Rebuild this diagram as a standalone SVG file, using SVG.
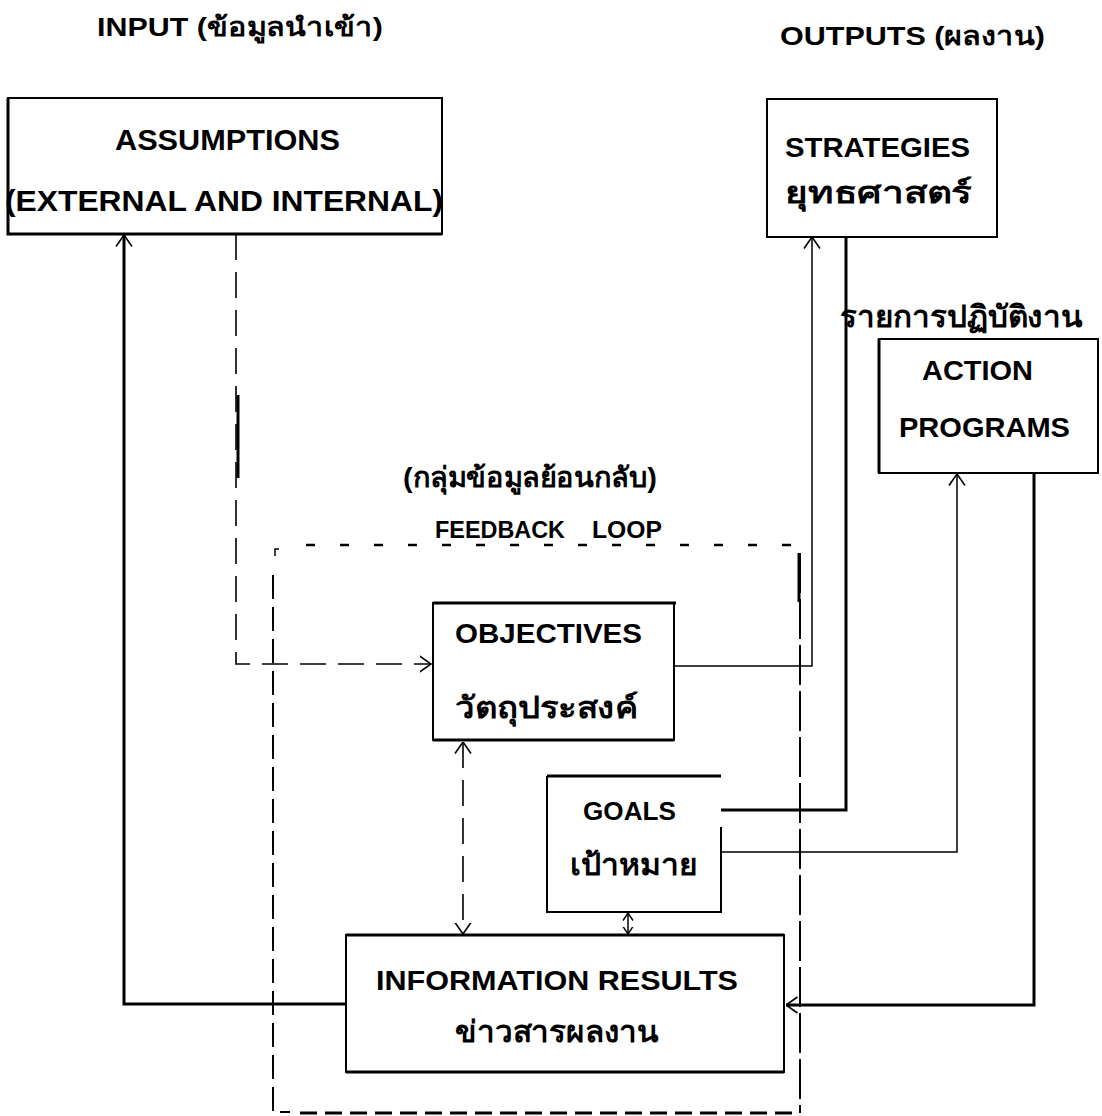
<svg xmlns="http://www.w3.org/2000/svg" width="1102" height="1116" viewBox="0 0 1102 1116">
<defs>
<style>
.t{font-family:"Liberation Sans","Noto Sans","DejaVu Sans",sans-serif;font-weight:bold;fill:#000}
.box{fill:#fff;stroke:#000;stroke-width:2}
.thk{fill:none;stroke:#000;stroke-width:3}
.thin{fill:none;stroke:#000;stroke-width:1.5}
.dash{fill:none;stroke:#000;stroke-width:1.6;stroke-dasharray:26 12}
</style>
<marker id="arr" viewBox="0 0 12 18" refX="11.5" refY="9" markerWidth="12" markerHeight="18" markerUnits="userSpaceOnUse" orient="auto-start-reverse">
<path d="M0,1 L11.5,9 L0,17" fill="none" stroke="#000" stroke-width="1.6"/>
</marker>
<marker id="arrs" viewBox="0 0 8 12" refX="7.5" refY="6" markerWidth="8" markerHeight="12" markerUnits="userSpaceOnUse" orient="auto-start-reverse">
<path d="M0,1 L7.5,6 L0,11" fill="none" stroke="#000" stroke-width="1.4"/>
</marker>
</defs>
<rect width="1102" height="1116" fill="#fff"/>

<g id="headers">
<text class="t" x="97" y="36" font-size="26" textLength="286" lengthAdjust="spacingAndGlyphs">INPUT (ข้อมูลนำเข้า)</text>
<text class="t" x="780" y="45" font-size="26" textLength="265" lengthAdjust="spacingAndGlyphs">OUTPUTS (ผลงาน)</text>
</g>

<g id="feedback-loop">
<path d="M306,545 H795" fill="none" stroke="#000" stroke-width="2.5" stroke-dasharray="9 25"/>
<path d="M275,556 V549 H279" fill="none" stroke="#000" stroke-width="1.5"/>
<path d="M273,575 V1112 H290" fill="none" stroke="#000" stroke-width="2" stroke-dasharray="24 8"/>
<path d="M300,1113 H800" fill="none" stroke="#000" stroke-width="3" stroke-dasharray="17 8"/>
<path d="M800,553 V1113" fill="none" stroke="#000" stroke-width="2" stroke-dasharray="40 6"/>
<path d="M799,553 V602" fill="none" stroke="#000" stroke-width="3"/>
<text class="t" x="403" y="487" font-size="28" textLength="254" lengthAdjust="spacingAndGlyphs">(กลุ่มข้อมูลย้อนกลับ)</text>
<text class="t" font-size="23" y="538"><tspan x="435" textLength="130" lengthAdjust="spacingAndGlyphs">FEEDBACK</tspan><tspan x="592" textLength="70" lengthAdjust="spacingAndGlyphs">LOOP</tspan></text>
</g>

<g id="connectors">
<path class="dash" d="M236,234 V664 H431" marker-end="url(#arr)"/>
<path d="M238,395 V478" fill="none" stroke="#000" stroke-width="3"/>
<path class="thin" d="M674,666 H812 V237" stroke-width="2" marker-end="url(#arr)"/>
<path class="thk" d="M721,810 H846 V237"/>
<path class="thin" d="M721,852 H957 V474" marker-end="url(#arr)"/>
<path class="thk" d="M1034,473 V1005 H786" marker-end="url(#arr)"/>
<path class="thk" d="M346,1004 H124 V235" marker-end="url(#arr)"/>
<path class="dash" d="M463,742 V934" stroke-dasharray="30 9" marker-start="url(#arr)" marker-end="url(#arr)"/>
<path class="thin" d="M628,913 V934" marker-start="url(#arrs)" marker-end="url(#arrs)"/>
</g>

<g id="assumptions">
<rect class="box" x="8" y="98" width="434" height="136"/>
<path class="thk" d="M8,98 V234 H442"/>
<text class="t" x="115" y="150" font-size="30" textLength="225" lengthAdjust="spacingAndGlyphs">ASSUMPTIONS</text>
<text class="t" x="5" y="211" font-size="30" textLength="438" lengthAdjust="spacingAndGlyphs">(EXTERNAL AND INTERNAL)</text>
</g>

<g id="strategies">
<rect class="box" x="767" y="99" width="230" height="138"/>
<text class="t" x="785" y="157" font-size="28" textLength="185" lengthAdjust="spacingAndGlyphs">STRATEGIES</text>
<text class="t" x="785" y="203" font-size="30" textLength="187" lengthAdjust="spacingAndGlyphs">ยุทธศาสตร์</text>
</g>

<g id="action-programs">
<text class="t" x="840" y="327" font-size="30" textLength="243" lengthAdjust="spacingAndGlyphs">รายการปฏิบัติงาน</text>
<rect class="box" x="879" y="339" width="219" height="134"/>
<path class="thk" d="M879,339 V473"/>
<text class="t" x="922" y="380" font-size="28" textLength="111" lengthAdjust="spacingAndGlyphs">ACTION</text>
<text class="t" x="899" y="437" font-size="28" textLength="171" lengthAdjust="spacingAndGlyphs">PROGRAMS</text>
</g>

<g id="objectives">
<rect class="box" x="433" y="603" width="241" height="137"/>
<path class="thk" d="M433,603 H676 M433,740 H674"/>
<text class="t" x="455" y="643" font-size="27" textLength="187" lengthAdjust="spacingAndGlyphs">OBJECTIVES</text>
<text class="t" x="455" y="718" font-size="30" textLength="183" lengthAdjust="spacingAndGlyphs">วัตถุประสงค์</text>
</g>

<g id="goals">
<path d="M721,827 V912 H547 V776" fill="#fff" stroke="#000" stroke-width="2"/>
<path class="thk" d="M547,776 H721"/>
<text class="t" x="583" y="820" font-size="25" textLength="93" lengthAdjust="spacingAndGlyphs">GOALS</text>
<text class="t" x="570" y="875" font-size="30" textLength="128" lengthAdjust="spacingAndGlyphs">เป้าหมาย</text>
</g>

<g id="information-results">
<rect class="box" x="346" y="935" width="438" height="137"/>
<path class="thk" d="M346,935 H784 M346,1072 H784"/>
<text class="t" x="376" y="990" font-size="28" textLength="362" lengthAdjust="spacingAndGlyphs">INFORMATION  RESULTS</text>
<text class="t" x="455" y="1042" font-size="30" textLength="204" lengthAdjust="spacingAndGlyphs">ข่าวสารผลงาน</text>
</g>
</svg>
